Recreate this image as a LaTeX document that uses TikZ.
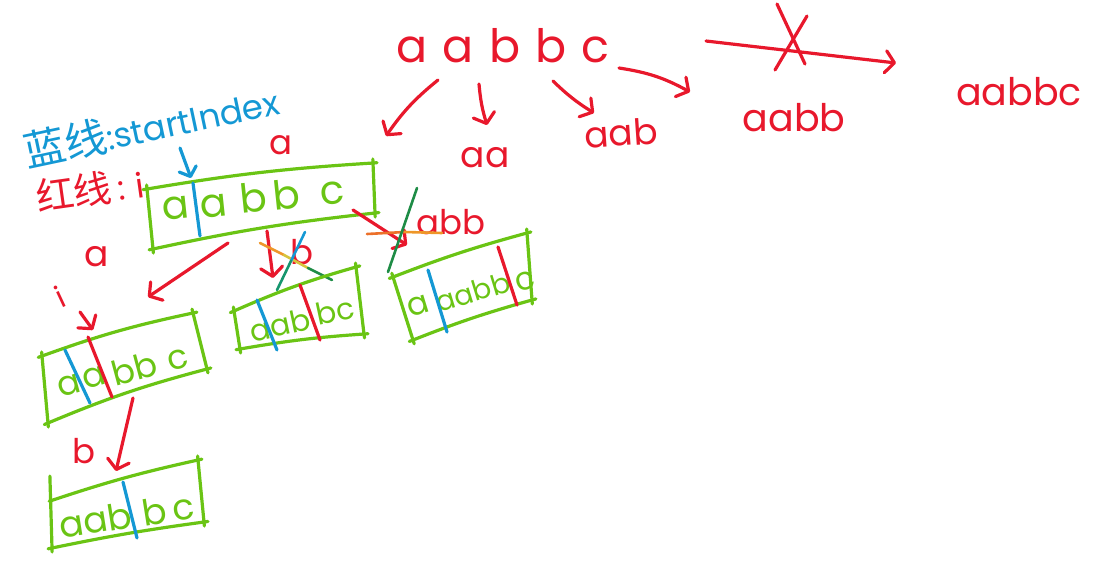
\documentclass[tikz,border=0pt]{standalone}
\usepackage{fontspec}
\setmainfont{Poppins}
\newfontfamily\cjk{Noto Sans CJK SC}
\usetikzlibrary{arrows.meta,calc}
\definecolor{inkred}{RGB}{232,24,44}
\definecolor{inkgreen}{RGB}{106,196,20}
\definecolor{inkblue}{RGB}{20,152,212}
\definecolor{inkteal}{RGB}{22,150,110}
\definecolor{inkorange}{RGB}{238,150,40}
\definecolor{inkyellow}{RGB}{214,196,60}
\definecolor{inkdkgreen}{RGB}{30,140,70}
\tikzset{
  pen/.style={line width=3.2pt, line cap=round, line join=round},
  redpen/.style={pen, draw=inkred},
  greenpen/.style={pen, draw=inkgreen, shorten <=-4pt, shorten >=-4pt},
  bluepen/.style={pen, draw=inkblue},
  arr/.style={redpen, -{Straight Barb[length=9pt,width=22pt,line cap=round,line join=round]}},
  bluearr/.style={bluepen, -{Straight Barb[length=8pt,width=18pt,line cap=round,line join=round]}},
  hw/.style={inner sep=0pt, font=\fontsize{#1pt}{#1pt}\selectfont},
  red text/.style={text=inkred},
  green text/.style={text=inkgreen},
  scribble/.style={line width=2.6pt, line cap=round}
}
\begin{document}
\begin{tikzpicture}[x=1pt,y=-1pt]
\useasboundingbox (0,0) rectangle (1102,568);

% ---------- top row: the string and its prefixes ----------
\node[hw=46, red text] (root) at (503,46) {a\,\,a\,\,b\,\,b\,\,c};
\node[hw=36, red text] (p2) at (485,158) {aa};
\node[hw=36, red text, rotate=4] (p3) at (621,133) {aab};
\node[hw=38, red text] (p4) at (794,118) {aabb};
\node[hw=38, red text] (p5) at (1019,92) {aabbc};

\coordinate (r1s) at (438,80);  \coordinate (r1e) at (386,136);
\coordinate (r2s) at (479,84);  \coordinate (r2e) at (487,125);
\coordinate (r3s) at (553,81);  \coordinate (r3e) at (594,113);
\coordinate (r4s) at (619,68);  \coordinate (r4e) at (690,92);
\draw[arr] (r1s) to[bend right=8] (r1e);
\draw[arr] (r2s) to[bend right=6] (r2e);
\draw[arr] (r3s) to[bend right=6] (r3e);
\draw[arr] (r4s) to[bend left=10] (r4e);

% crossed-out arrow towards the full string
\coordinate (xs) at (706,41);  \coordinate (xe) at (896,63);
\draw[arr] (xs) -- (xe);
\coordinate (x1a) at (777,4);  \coordinate (x1b) at (805,64);
\coordinate (x2a) at (807,16); \coordinate (x2b) at (775,70);
\draw[redpen] (x1a) -- (x1b);
\draw[redpen] (x2a) -- (x2b);

% ---------- legend ----------
\node[inner sep=0pt, text=inkblue, rotate=12] (legblue) at (151,125)
  {{\cjk\fontsize{42pt}{42pt}\selectfont 蓝线}{\fontsize{34pt}{34pt}\selectfont :startIndex}};
\node[inner sep=0pt, text=inkred, rotate=8] (legred) at (90,190)
  {{\cjk\fontsize{38pt}{38pt}\selectfont 红线}{\fontsize{34pt}{34pt}\selectfont \,:\,\,i}};

% ---------- first level: a | aabbc ----------
\node[hw=34, red text] (la) at (281,145) {a};
\coordinate (ba1) at (180,148); \coordinate (ba2) at (191,178);
\draw[bluearr] (ba1) -- (ba2);

\coordinate (b1a) at (147,189); \coordinate (b1b) at (373,163);
\coordinate (b1c) at (375,213); \coordinate (b1d) at (153,249);
\draw[greenpen] (b1a) to[bend left=3] (b1b);
\draw[greenpen] (b1b) -- (b1c);
\draw[greenpen] (b1c) to[bend right=3] (b1d);
\draw[greenpen] (b1d) -- (b1a);
\node[hw=40, green text, rotate=6] (t1a) at (176,208) {a};
\node[hw=40, green text, rotate=6] (t1b) at (272,196) {a\,\,b\,b\,\,\,c};
\coordinate (s1a) at (193,183); \coordinate (s1b) at (200,236);
\draw[bluepen] (s1a) -- (s1b);

% ---------- branch "a": aa | bbc ----------
\coordinate (e1s) at (228,243); \coordinate (e1e) at (148,297);
\draw[arr] (e1s) -- (e1e);
\node[hw=36, red text] (lb) at (97,257) {a};
\node[hw=30, red text, rotate=25] (li) at (60,297) {i};
\coordinate (ia1) at (80,312); \coordinate (ia2) at (93,330);
\draw[arr] (ia1) -- (ia2);

\coordinate (b2a) at (42,356); \coordinate (b2b) at (193,313);
\coordinate (b2c) at (207,369); \coordinate (b2d) at (48,423);
\draw[greenpen] (b2a) to[bend left=4] (b2b);
\draw[greenpen] (b2b) -- (b2c);
\draw[greenpen] (b2c) to[bend right=4] (b2d);
\draw[greenpen] (b2d) -- (b2a);
\node[hw=34, green text, rotate=15] (t2a) at (69,386) {a};
\node[hw=34, green text, rotate=15] (t2b) at (94,378) {a};
\node[hw=34, green text, rotate=15] (t2c) at (150,364) {bb\,\,c};
\draw[bluepen] (65,350) -- (90,403);
\draw[redpen] (88,337) -- (112,397);

% ---------- branch "b": aab | bc ----------
\coordinate (e2s) at (133,398); \coordinate (e2e) at (116,471);
\draw[arr] (e2s) -- (e2e);
\node[hw=34, red text] (lc) at (84,451) {b};

\coordinate (b3a) at (53,500); \coordinate (b3b) at (198,460);
\coordinate (b3c) at (204,522); \coordinate (b3d) at (52,548);
\draw[greenpen] (b3a) to[bend left=3] (b3b);
\draw[greenpen] (b3b) -- (b3c);
\draw[greenpen] (b3c) to[bend right=2] (b3d);
\draw[greenpen] (b3d) -- (50,480);
\node[hw=36, green text, rotate=9] (t3a) at (95,520) {aab};
\node[hw=36, green text, rotate=9] (t3b) at (168,509) {b\,c};
\draw[bluepen] (123,482) -- (137,538);

% ---------- crossed branch "b" from the first box ----------
\coordinate (e3s) at (267,231); \coordinate (e3e) at (273,278);
\draw[arr] (e3s) -- (e3e);
\node[hw=34, red text] (ld) at (302,252) {b};
\draw[scribble, inkorange] (260,243) -- (284,255);
\draw[scribble, inkyellow] (284,255) -- (308,268);
\draw[scribble, inkdkgreen] (308,268) -- (332,280);
\draw[scribble, inkblue] (305,232) -- (291,261);
\draw[scribble, inkteal] (291,261) -- (277,290);

\coordinate (b4a) at (234,311); \coordinate (b4b) at (356,267);
\coordinate (b4c) at (364,334); \coordinate (b4d) at (240,349);
\draw[greenpen] (b4a) to[bend left=4] (b4b);
\draw[greenpen] (b4b) -- (b4c);
\draw[greenpen] (b4c) to[bend right=3] (b4d);
\draw[greenpen] (b4d) -- (b4a);
\node[hw=30, green text, rotate=12] (t4a) at (280,325) {aab};
\node[hw=30, green text, rotate=12] (t4b) at (335,311) {bc};
\draw[bluepen] (257,300) -- (277,350);
\draw[redpen] (300,285) -- (320,340);

% ---------- crossed branch "abb" ----------
\coordinate (e4s) at (353,210); \coordinate (e4e) at (407,245);
\draw[arr] (e4s) -- (e4e);
\node[hw=34, red text] (le) at (451,222) {abb};
\draw[scribble, inkorange!70!inkred] (367,234) -- (405,232);
\draw[scribble, inkorange] (405,232) -- (442,233);
\draw[scribble, inkdkgreen] (417,188) -- (388,272);

\coordinate (b5a) at (393,277); \coordinate (b5b) at (527,233);
\coordinate (b5c) at (532,300); \coordinate (b5d) at (413,340);
\draw[greenpen] (b5a) to[bend left=3] (b5b);
\draw[greenpen] (b5b) -- (b5c);
\draw[greenpen] (b5c) to[bend right=3] (b5d);
\draw[greenpen] (b5d) -- (b5a);
\node[hw=32, green text, rotate=17] (t5a) at (418,306) {a};
\node[hw=28, green text, rotate=17] (t5b) at (473,292) {aabb};
\node[hw=32, green text, rotate=17] (t5c) at (525,281) {c};
\draw[bluepen] (428,270) -- (447,332);
\draw[redpen] (498,247) -- (517,305);
\end{tikzpicture}
\end{document}
